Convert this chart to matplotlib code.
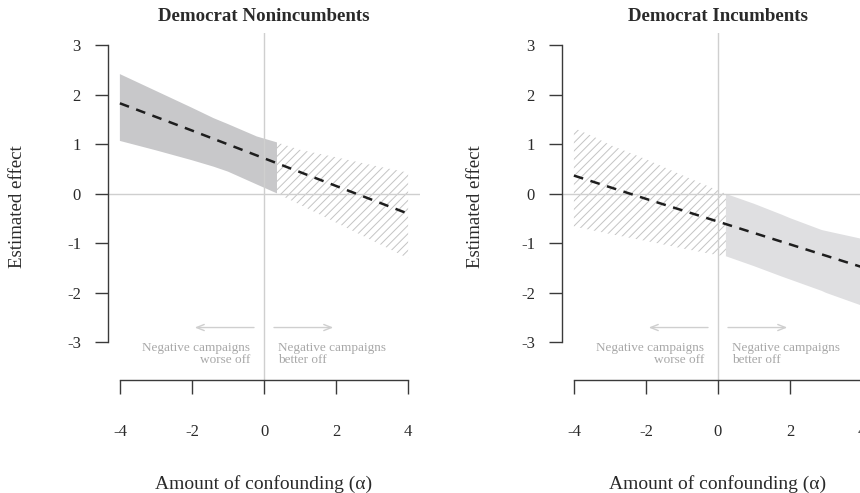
import numpy as np
import matplotlib
matplotlib.use("Agg")
import matplotlib.pyplot as plt

plt.rcParams["font.family"] = ["Liberation Serif", "DejaVu Serif"]
plt.rcParams["axes.unicode_minus"] = False
plt.rcParams["hatch.linewidth"] = 0.7
plt.rcParams["lines.scale_dashes"] = False

# ---- data -------------------------------------------------------------
titles = ["Democrat Nonincumbents", "Democrat Incumbents"]
x_ticks = [-4, -2, 0, 2, 4]
y_ticks = [-3, -2, -1, 0, 1, 2, 3]

# estimated effect along the confounding grid
line_alpha = [-4, -2, 0, 2, 4]
effect_noninc = [1.83, 1.28, 0.72, 0.16, -0.40]
effect_inc = [0.37, -0.10, -0.56, -1.02, -1.48]

# confidence band, nonincumbents
alpha_noninc = [-4, -3, -2, -1.4, -1, -0.2, 0.36, 1, 2, 3, 4]
upper_noninc = [2.42, 2.08, 1.74, 1.53, 1.41, 1.16, 1.04, 0.89, 0.74, 0.58, 0.43]
lower_noninc = [1.07, 0.88, 0.68, 0.55, 0.45, 0.19, 0.01, -0.22, -0.58, -0.94, -1.30]

# confidence band, incumbents
alpha_inc = [-4, -3.46, -3, -2, -1, 0, 0.22, 1, 1.77, 2, 2.88, 3, 4]
upper_inc = [1.33, 1.16, 0.99, 0.70, 0.38, 0.07, 0.0, -0.20, -0.42, -0.49, -0.73, -0.75, -0.91]
lower_inc = [-0.66, -0.74, -0.81, -0.95, -1.10, -1.24, -1.26, -1.46, -1.67, -1.73, -1.96, -2.00, -2.26]

panels = [
    dict(title=titles[0], effect=effect_noninc, alpha=alpha_noninc,
         upper=upper_noninc, lower=lower_noninc, shade="#c8c8ca"),
    dict(title=titles[1], effect=effect_inc, alpha=alpha_inc,
         upper=upper_inc, lower=lower_inc, shade="#dfdfe1"),
]

# ---- figure -----------------------------------------------------------
W, H = 860, 493
fig = plt.figure(figsize=(W / 100, H / 100), dpi=100)

axis_col = "#3a3a3a"
guide_col = "#cfcfcf"
note_col = "#a8a8a8"

lefts_px = [108, 562]
ylabel_px = [18, 475]
top_px, bottom_px, width_px = 33, 380, 312

for p, left_px, ylab_px in zip(panels, lefts_px, ylabel_px):
    ax = fig.add_axes([left_px / W, (H - bottom_px) / H, width_px / W,
                       (bottom_px - top_px) / H])
    ax.set_xlim(-4.33, 4.33)
    ax.set_ylim(-3.76, 3.25)

    a = np.array(p["alpha"])
    up = np.array(p["upper"])
    lo = np.array(p["lower"])
    sig = (lo >= 0) | (up <= 0)
    # include the boundary point in both the shaded and hatched parts
    edge = np.zeros_like(sig)
    idx = np.where(np.diff(sig.astype(int)) != 0)[0]
    for i in idx:
        edge[i] = edge[i + 1] = True
    ax.fill_between(a, lo, up, where=sig, facecolor=p["shade"],
                    edgecolor="none", linewidth=0, zorder=1)
    ax.fill_between(a, lo, up, where=(~sig) | edge, facecolor="none",
                    edgecolor="#c4c4c4", hatch="////", linewidth=0, zorder=1)

    # reference lines
    ax.axhline(0, color=guide_col, lw=1.0, zorder=2)
    ax.axvline(0, color=guide_col, lw=1.0, zorder=2)

    ax.plot(line_alpha, p["effect"], color="#1e1e1e", lw=1.8,
            linestyle=(0, (7.0, 5.5)), zorder=3)

    # direction notes
    ax.annotate("", xy=(-2.0, -2.7), xytext=(-0.2, -2.7),
                arrowprops=dict(arrowstyle="->,head_length=0.55,head_width=0.22",
                                color=guide_col, lw=1.0))
    ax.annotate("", xy=(2.0, -2.7), xytext=(0.2, -2.7),
                arrowprops=dict(arrowstyle="->,head_length=0.55,head_width=0.22",
                                color=guide_col, lw=1.0))
    ax.text(-0.38, -3.0, "Negative campaigns\nworse off", ha="right", va="top",
            fontsize=9.5, color=note_col, linespacing=0.95, multialignment="right")
    ax.text(0.38, -3.0, "Negative campaigns\nbetter off", ha="left", va="top",
            fontsize=9.5, color=note_col, linespacing=0.95, multialignment="left")

    # axes styling
    for s in ["top", "right"]:
        ax.spines[s].set_visible(False)
    ax.spines["left"].set_bounds(-3, 3)
    ax.spines["bottom"].set_bounds(-4, 4)
    for s in ["left", "bottom"]:
        ax.spines[s].set_color(axis_col)
        ax.spines[s].set_linewidth(1.0)
    ax.set_xticks(x_ticks)
    ax.set_yticks(y_ticks)
    ax.set_xticklabels([str(v) for v in x_ticks])
    ax.set_yticklabels([str(v) for v in y_ticks])
    ax.tick_params(axis="x", direction="out", length=10, width=1.0,
                   color=axis_col, labelcolor="#2a2a2a", labelsize=12, pad=22)
    ax.tick_params(axis="y", direction="out", length=9.5, width=1.0,
                   color=axis_col, labelcolor="#2a2a2a", labelsize=12, pad=10)

    ax.text(0.5, 1 + (top_px - 16) / (bottom_px - top_px), p["title"],
            transform=ax.transAxes, ha="center", va="center",
            fontsize=13.6, fontweight="bold", color="#2a2a2a")
    fig.text(ylab_px / W, 1 - ((top_px + bottom_px) / 2) / H, "Estimated effect",
             rotation=90, ha="center", va="center", fontsize=13.6, color="#2a2a2a")
    fig.text((left_px + width_px / 2) / W, 1 - 484 / H, "Amount of confounding (α)",
             ha="center", va="center", fontsize=14, color="#2a2a2a")

fig.savefig("out.png", dpi=100)
